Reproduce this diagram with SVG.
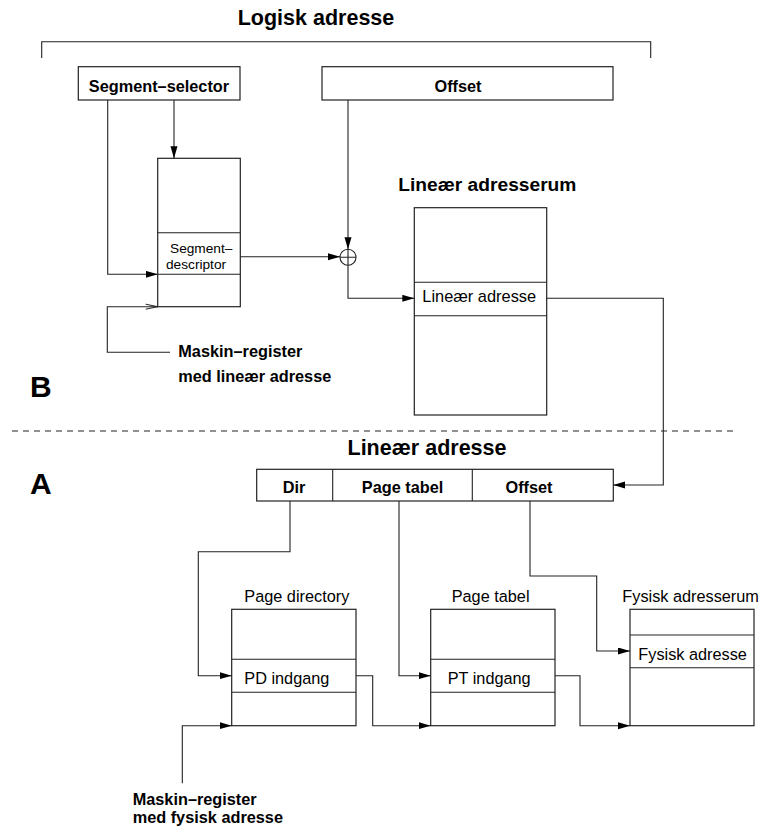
<svg xmlns="http://www.w3.org/2000/svg" width="762" height="827" viewBox="0 0 762 827">
<style>
.box{fill:#fff;stroke:#222;stroke-width:1.2}
.ln{fill:none;stroke:#222;stroke-width:1.1}
.b{font-family:"Liberation Sans",Arial,sans-serif;font-weight:bold;fill:#000}
.r{font-family:"Liberation Sans",Arial,sans-serif;fill:#000}
</style>
<defs>
<marker id="arr" markerUnits="userSpaceOnUse" markerWidth="13" markerHeight="8" refX="12" refY="3.5" orient="auto">
<path d="M0,0 L12,3.5 L0,7 z" fill="#000"/>
</marker>
<marker id="oarr" markerUnits="userSpaceOnUse" markerWidth="14" markerHeight="8" refX="12.5" refY="3.5" orient="auto">
<path d="M0.5,1 L12.5,3.5 L0.5,6" fill="none" stroke="#222" stroke-width="1"/>
</marker>
</defs>

<g id="labels">
<text class="b" x="316" y="25" font-size="21.5" text-anchor="middle">Logisk adresse</text>
<path class="ln" d="M41.7,58 V41.7 H650.7 V58"/>
<text class="b" x="30" y="396.7" font-size="30">B</text>
<text class="b" x="30" y="494" font-size="30">A</text>
<path d="M12,431 H737" fill="none" stroke="#222" stroke-width="1" stroke-dasharray="6,5"/>
<text class="b" x="178.3" y="356.7" font-size="16.3">Maskin–register</text>
<text class="b" x="178.3" y="381.7" font-size="16.3">med lineær adresse</text>
<text class="b" x="132.7" y="805" font-size="16.3">Maskin–register</text>
<text class="b" x="132.7" y="823.3" font-size="16.3">med fysisk adresse</text>
</g>

<g id="segment-selector">
<rect class="box" x="78.3" y="66.7" width="161.7" height="33.3"/>
<text class="b" x="159" y="91.7" font-size="16.3" text-anchor="middle">Segment–selector</text>
</g>

<g id="offset">
<rect class="box" x="322" y="66.7" width="291" height="33.3"/>
<text class="b" x="458" y="92" font-size="16.3" text-anchor="middle">Offset</text>
</g>

<g id="segment-descriptor">
<rect class="box" x="157.7" y="158.3" width="82.6" height="148.4"/>
<path class="ln" d="M157.7,232.7 H240.3 M157.7,274.3 H240.3"/>
<text class="r" x="170" y="253" font-size="13.7">Segment–</text>
<text class="r" x="166" y="269" font-size="13.7">descriptor</text>
</g>

<g id="adder">
<circle cx="348" cy="257.3" r="8" fill="#fff" stroke="#222" stroke-width="1.1"/>
<path class="ln" d="M340,257.3 H356 M348,249.3 V265.3"/>
</g>

<g id="linear-space">
<text class="b" x="398.3" y="190.7" font-size="19.2">Lineær adresserum</text>
<rect class="box" x="414.3" y="207.7" width="132.4" height="207.3"/>
<path class="ln" d="M414.3,282.3 H546.7 M414.3,315.7 H546.7"/>
<text class="r" x="422.3" y="302.3" font-size="16.4">Lineær adresse</text>
</g>

<g id="linear-address">
<text class="b" x="427" y="455" font-size="21.5" text-anchor="middle">Lineær adresse</text>
<rect class="box" x="256.7" y="469.3" width="356.6" height="31.7"/>
<path class="ln" d="M332.7,469.3 V501 M472.3,469.3 V501"/>
<text class="b" x="294" y="493.3" font-size="16.3" text-anchor="middle">Dir</text>
<text class="b" x="402.5" y="493.3" font-size="16.3" text-anchor="middle">Page tabel</text>
<text class="b" x="529" y="493.3" font-size="16.3" text-anchor="middle">Offset</text>
</g>

<g id="page-directory">
<text class="r" x="244.3" y="601.7" font-size="16.3">Page directory</text>
<rect class="box" x="231.7" y="609.3" width="124.3" height="116.4"/>
<path class="ln" d="M231.7,659.3 H356 M231.7,692.3 H356"/>
<text class="r" x="244.3" y="684.3" font-size="16.3">PD indgang</text>
</g>

<g id="page-tabel">
<text class="r" x="451.7" y="601.7" font-size="16.3">Page tabel</text>
<rect class="box" x="430.7" y="609.3" width="124.3" height="116.4"/>
<path class="ln" d="M430.7,659.3 H555 M430.7,692.3 H555"/>
<text class="r" x="447.7" y="684.3" font-size="16.3">PT indgang</text>
</g>

<g id="fysisk-space">
<text class="r" x="622.3" y="601.7" font-size="16.3">Fysisk adresserum</text>
<rect class="box" x="630" y="609.3" width="124" height="116.4"/>
<path class="ln" d="M630,635 H754 M630,667.7 H754"/>
<text class="r" x="638.3" y="660" font-size="16.3">Fysisk adresse</text>
</g>

<g id="connectors">
<path class="ln" d="M174,100 V158.3" marker-end="url(#arr)"/>
<path class="ln" d="M107.7,100 V274.3 H157.7" marker-end="url(#arr)"/>
<path class="ln" d="M240.3,256.7 H340" marker-end="url(#arr)"/>
<path class="ln" d="M348,100 V249.3" marker-end="url(#arr)"/>
<path class="ln" d="M348,265.3 V298.3 H414.3" marker-end="url(#arr)"/>
<path class="ln" d="M170,352.3 H107.3 V306.7 H157.7" marker-end="url(#oarr)"/>
<path class="ln" d="M546.7,298.3 H663.3 V485 H613.3" marker-end="url(#arr)"/>
<path class="ln" d="M290,501 V551.7 H198.3 V675.7 H231.7" marker-end="url(#arr)"/>
<path class="ln" d="M399,501 V675.7 H430.7" marker-end="url(#arr)"/>
<path class="ln" d="M530,501 V576 H596.7 V651 H630" marker-end="url(#arr)"/>
<path class="ln" d="M356,675.7 H372.7 V725.7 H430.7" marker-end="url(#arr)"/>
<path class="ln" d="M555,675.7 H580 V725.7 H630" marker-end="url(#arr)"/>
<path class="ln" d="M182.3,783.3 V725.7 H231.7" marker-end="url(#arr)"/>
</g>
</svg>
